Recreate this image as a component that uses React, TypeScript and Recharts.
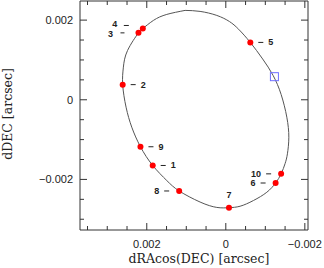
import {
  ComposedChart,
  Line,
  Scatter,
  XAxis,
  YAxis,
  ReferenceArea,
  Label,
} from "recharts";

// measured positions (arcsec)
const POINT_RA = [0.00185, 0.00261, 0.00221, 0.0021, -0.00062, -0.00126, -0.00008, 0.00118, 0.00216, -0.0014];
const POINT_DEC = [-0.00165, 0.00038, 0.00168, 0.00179, 0.00144, -0.00209, -0.00271, -0.00229, -0.00118, -0.00186];
const POINT_LABELS = ["1", "2", "3", "4", "5", "6", "7", "8", "9", "10"];

// predicted position
const MARK_RA = [-0.00123];
const MARK_DEC = [0.00058];

// orbit curve, going round from the top
const ORBIT_RA = [
  0.00103, 0.000651, 0.000228, -0.000091, -0.000324, -0.00062, -0.000932, -0.001197, -0.0014,
  -0.001544, -0.001595, -0.001559, -0.001501, -0.0014, -0.00126, -0.001038, -0.000699, -0.000362,
  -0.00008, 0.000228, 0.000651, 0.00118, 0.001494, 0.00185, 0.00216, 0.00238, 0.002524, 0.00261,
  0.002592, 0.002486, 0.00221, 0.0021, 0.001833, 0.001494, 0.00103,
];
const ORBIT_DEC = [
  0.002244, 0.002219, 0.002118, 0.001965, 0.001771, 0.00144, 0.001025, 0.000611, 0.000133,
  -0.000437, -0.00094, -0.001357, -0.0016, -0.00186, -0.00209, -0.002322, -0.00253, -0.002673,
  -0.00271, -0.002703, -0.002568, -0.00229, -0.002028, -0.00165, -0.00118, -0.000688, -0.000186, 0.00038,
  0.000819, 0.001239, 0.00168, 0.00179, 0.001992, 0.002143, 0.002244,
];

const X_TICKS = [-0.002, -0.0015, -0.001, -0.0005, 0, 0.0005, 0.001, 0.0015, 0.002, 0.0025, 0.003, 0.0035];
const Y_TICKS = [-0.003, -0.0025, -0.002, -0.0015, -0.001, -0.0005, 0, 0.0005, 0.001, 0.0015, 0.002];
const MAJOR_TICKS = [-0.002, 0, 0.002];

const X_DOMAIN = [-0.00208, 0.00369];
const Y_DOMAIN = [-0.00327, 0.00248];

// which side each point label sits on
const LABEL_SIDE: Record<string, string> = {
  "1": "right", "2": "right", "3": "left3", "4": "left4", "5": "right",
  "6": "left", "7": "above", "8": "left", "9": "right", "10": "left",
};

const W = 324;
const H = 268;
const MARGIN = { top: 1, right: 16, left: 0, bottom: 0 };
const Y_AXIS_W = 80;
const X_AXIS_H = 38;
const PLOT_W = W - MARGIN.right - Y_AXIS_W;
const PLOT_H = H - MARGIN.top - X_AXIS_H;

const AXIS = "#333";
const SANS = "'Liberation Sans', Arial, sans-serif";
const SERIF = "'DejaVu Serif', serif";

const points = POINT_RA.map((x, i) => ({ x, y: POINT_DEC[i], label: POINT_LABELS[i] }));
const marks = MARK_RA.map((x, i) => ({ x, y: MARK_DEC[i] }));
const orbit = ORBIT_RA.map((x, i) => ({ x, y: ORBIT_DEC[i] }));

const isMajor = (v: number) => MAJOR_TICKS.some((m) => Math.abs(m - v) < 1e-9);
const fmt = (v: number) => (Math.abs(v) < 1e-9 ? "0" : v < 0 ? `\u2212${Math.abs(v)}` : String(v));

function XTick(props: any) {
  const { x, y, payload } = props;
  const major = isMajor(payload.value);
  const len = major ? 7 : 4;
  return (
    <g>
      <line x1={x} x2={x} y1={y} y2={y - len} stroke={AXIS} />
      <line x1={x} x2={x} y1={y - PLOT_H} y2={y - PLOT_H + len} stroke={AXIS} />
      {major && (
        <text x={x} y={y + 14} textAnchor="middle" dominantBaseline="central" fontSize={11} fontFamily={SANS} fill="#222">
          {fmt(payload.value)}
        </text>
      )}
    </g>
  );
}

function YTick(props: any) {
  const { x, y, payload } = props;
  const major = isMajor(payload.value);
  const len = major ? 7 : 4;
  return (
    <g>
      <line x1={x} x2={x + len} y1={y} y2={y} stroke={AXIS} />
      <line x1={x + PLOT_W} x2={x + PLOT_W - len} y1={y} y2={y} stroke={AXIS} />
      {major && (
        <text x={x - 7} y={y} textAnchor="end" dominantBaseline="central" fontSize={11} fontFamily={SANS} fill="#222">
          {fmt(payload.value)}
        </text>
      )}
    </g>
  );
}

function PointShape(props: any) {
  const { cx, cy, payload } = props;
  const side = LABEL_SIDE[payload.label];
  const txt = { fontSize: 9, fontFamily: SANS, fontWeight: 700, fill: "#222", dominantBaseline: "central" as const };
  let label = null;
  if (side === "right") {
    label = (
      <g>
        <line x1={cx + 8} x2={cx + 13} y1={cy} y2={cy} stroke="#222" />
        <text x={cx + 18} y={cy} {...txt}>{payload.label}</text>
      </g>
    );
  } else if (side === "left") {
    label = (
      <g>
        <line x1={cx - 15} x2={cx - 10} y1={cy} y2={cy} stroke="#222" />
        <text x={cx - 20} y={cy} textAnchor="end" {...txt}>{payload.label}</text>
      </g>
    );
  } else if (side === "left3") {
    label = (
      <g>
        <line x1={cx - 18} x2={cx - 14} y1={cy} y2={cy} stroke="#222" />
        <text x={cx - 28} y={cy + 1} textAnchor="middle" {...txt}>{payload.label}</text>
      </g>
    );
  } else if (side === "left4") {
    label = (
      <g>
        <line x1={cx - 19} x2={cx - 14} y1={cy - 3} y2={cy - 3} stroke="#222" />
        <text x={cx - 28} y={cy - 4} textAnchor="middle" {...txt}>{payload.label}</text>
      </g>
    );
  } else {
    label = (
      <text x={cx} y={cy - 13} textAnchor="middle" {...txt}>{payload.label}</text>
    );
  }
  return (
    <g>
      <circle cx={cx} cy={cy} r={3} fill="#ff0000" />
      {label}
    </g>
  );
}

function MarkShape(props: any) {
  const { cx, cy } = props;
  return <rect x={cx - 4} y={cy - 4} width={8} height={8} fill="none" stroke="#7070ff" strokeWidth={1} />;
}

export default function App() {
  return (
    <div style={{ position: "absolute", left: 0, top: 0, width: W, height: H, background: "#fff" }}>
      <ComposedChart width={W} height={H} margin={MARGIN}>
        <XAxis
          type="number"
          dataKey="x"
          domain={X_DOMAIN}
          allowDataOverflow
          reversed
          ticks={X_TICKS}
          interval={0}
          height={X_AXIS_H}
          tickSize={0}
          tickMargin={0}
          tickLine={false}
          axisLine={false}
          tick={<XTick />}
        >
          <Label
            content={() => (
              <text x={199} y={258} textAnchor="middle" dominantBaseline="central" fontSize={12.5} fontFamily={SERIF} fill="#222">
                dRAcos(DEC) [arcsec]
              </text>
            )}
          />
        </XAxis>
        <YAxis
          type="number"
          dataKey="y"
          domain={Y_DOMAIN}
          allowDataOverflow
          ticks={Y_TICKS}
          interval={0}
          width={Y_AXIS_W}
          tickSize={0}
          tickMargin={0}
          tickLine={false}
          axisLine={false}
          tick={<YTick />}
        >
          <Label
            content={() => (
              <text x={7} y={114} transform="rotate(-90 7 114)" textAnchor="middle" dominantBaseline="central" fontSize={12.5} fontFamily={SERIF} fill="#222">
                dDEC [arcsec]
              </text>
            )}
          />
        </YAxis>
        <ReferenceArea
          x1={X_DOMAIN[0]}
          x2={X_DOMAIN[1]}
          y1={Y_DOMAIN[0]}
          y2={Y_DOMAIN[1]}
          fill="none"
          stroke={AXIS}
          strokeWidth={1}
          fillOpacity={0}
          ifOverflow="visible"
        />
        <Line
          data={orbit}
          dataKey="y"
          type="natural"
          stroke="#555"
          strokeWidth={1}
          dot={false}
          activeDot={false}
          isAnimationActive={false}
        />
        <Scatter data={marks} dataKey="y" shape={<MarkShape />} isAnimationActive={false} />
        <Scatter data={points} dataKey="y" shape={<PointShape />} isAnimationActive={false} />
      </ComposedChart>
    </div>
  );
}
